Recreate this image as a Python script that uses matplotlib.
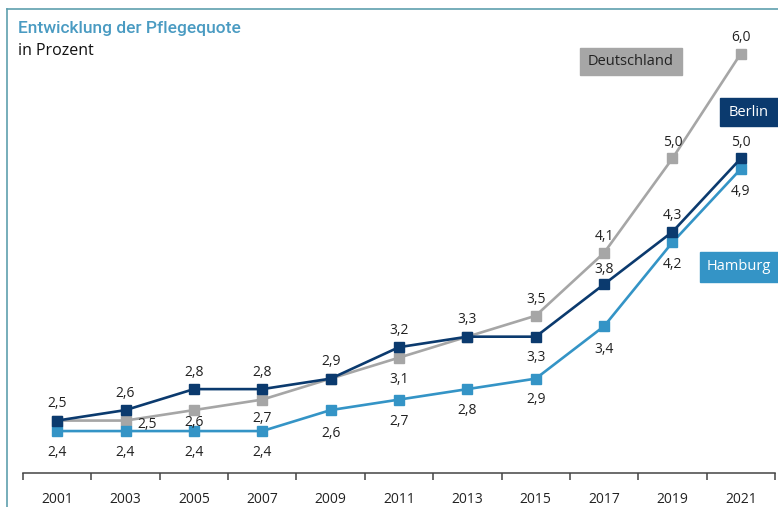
import matplotlib.pyplot as plt
from matplotlib.lines import Line2D
from matplotlib.patches import Rectangle

plt.rcParams['font.family'] = ['Open Sans', 'DejaVu Sans']

years = ['2001', '2003', '2005', '2007', '2009', '2011', '2013', '2015', '2017', '2019', '2021']
deutschland = [2.5, 2.5, 2.6, 2.7, 2.9, 3.1, 3.3, 3.5, 4.1, 5.0, 6.0]
berlin = [2.5, 2.6, 2.8, 2.8, 2.9, 3.2, 3.3, 3.3, 3.8, 4.3, 5.0]
hamburg = [2.4, 2.4, 2.4, 2.4, 2.6, 2.7, 2.8, 2.9, 3.4, 4.2, 4.9]

c_de = '#a6a6a6'
c_be = '#0b3a6e'
c_hh = '#3494c6'

W, H = 778, 507
fig = plt.figure(figsize=(W / 100, H / 100), dpi=100)
ax = fig.add_axes([23 / W, 1 - 473 / H, (775 - 23) / W, (473 - 20) / H])

x = list(range(len(years)))
for vals, col in [(deutschland, c_de), (hamburg, c_hh), (berlin, c_be)]:
    ax.plot(x, vals, color=col, lw=1.9, marker='s', ms=6.5, mec=col, mfc=col)

# label offsets in pixels (dx, dy), None = no label
off_be = [(0, 17)] * 7 + [(0, -21), (0, 15), (0, 16), (0, 16)]
off_de = [None, (22, -4), (0, -12), (0, -19), None, (0, -22), None,
          (0, 16), (0, 16), (0, 16), (0, 16)]
off_hh = [(0, -21)] * 4 + [(0, -23), (0, -22), (0, -21), (0, -21),
                            (0, -23), (0, -22), (0, -23)]

for vals, offs in [(berlin, off_be), (deutschland, off_de), (hamburg, off_hh)]:
    for i, (v, o) in enumerate(zip(vals, offs)):
        if o is None:
            continue
        ax.annotate(f'{v:.1f}'.replace('.', ','), (i, v), xytext=o,
                    textcoords='offset pixels', ha='center', va='center',
                    fontsize=10, color='#222222')

ax.set_xlim(-0.5, len(years) - 0.5)
ax.set_ylim(2.0, 2.0 + 453 / 104.86)
ax.set_yticks([])
for s in ['top', 'right', 'left']:
    ax.spines[s].set_visible(False)
ax.spines['bottom'].set_color('#444444')
ax.spines['bottom'].set_linewidth(1.1)
ax.set_xticks(x)
ax.set_xticklabels(years, fontsize=10, color='#222222')
ax.tick_params(axis='x', which='major', length=0, pad=14)
ax.set_xticks([i - 0.5 for i in range(len(years) + 1)], minor=True)
ax.tick_params(axis='x', which='minor', length=5, width=1.1, color='#444444')

# frame lines
fig.add_artist(Line2D([7 / W, 7 / W], [0, 1 - 9 / H], color='#5f9fae', lw=1.2))
fig.add_artist(Line2D([7 / W, 1], [1 - 9 / H, 1 - 9 / H], color='#5f9fae', lw=1.2))

fig.text(18 / W, 1 - 28 / H, 'Entwicklung der Pflegequote', fontsize=12.5,
         fontweight='medium', color='#4a9bc2', va='center',
         family=['Roboto', 'DejaVu Sans'])
fig.text(18 / W, 1 - 51 / H, 'in Prozent', fontsize=11.5, color='#111111', va='center')

# legend boxes
boxes = [(580, 48, 682, 75, c_de, 'Deutschland', '#222222'),
         (720, 98, 778, 126, c_be, 'Berlin', 'white'),
         (700, 252, 778, 282, c_hh, 'Hamburg', 'white')]
for x0, y0, x1, y1, col, txt, tcol in boxes:
    fig.add_artist(Rectangle((x0 / W, 1 - y1 / H), (x1 - x0) / W, (y1 - y0) / H,
                             color=col, transform=fig.transFigure))
    fig.text((x0 + x1) / 2 / W, 1 - (y0 + y1) / 2 / H, txt, fontsize=10.5,
             color=tcol, ha='center', va='center')

fig.savefig('out.png', dpi=100)
